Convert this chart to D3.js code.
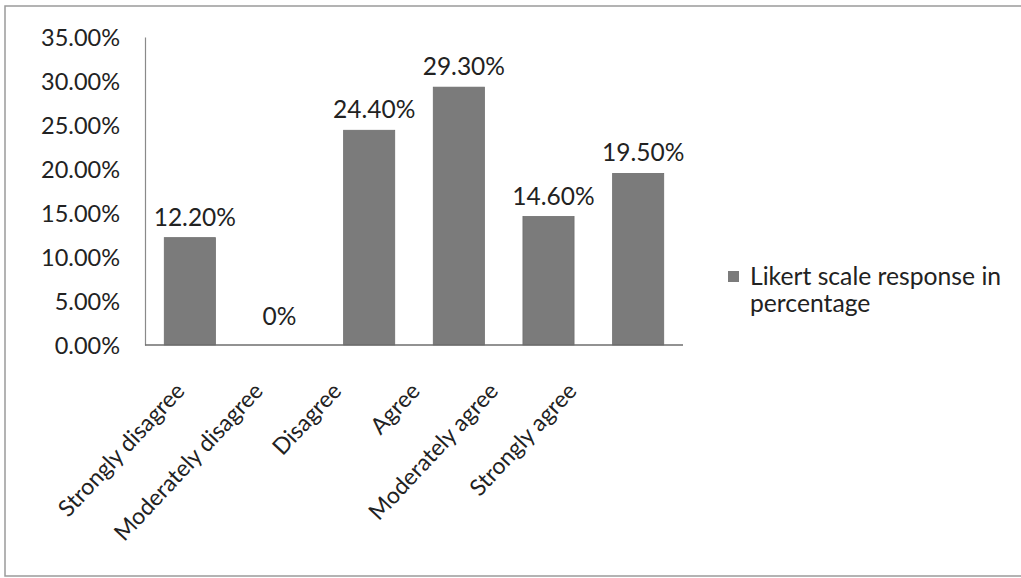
<html>
<head>
<script src="https://d3js.org/d3.v7.min.js"></script>
<style>
  body { margin: 0; background: #fff; }
  text { font-family: Lato, "Open Sans", sans-serif; fill: #222; }
</style>
</head>
<body>
<svg id="chart" width="1021" height="578"></svg>
<script>
    const categories = ["Strongly disagree", "Moderately disagree", "Disagree", "Agree", "Moderately agree", "Strongly agree"];
    const values = [12.2, 0, 24.4, 29.3, 14.6, 19.5];
    const valueLabels = ["12.20%", "0%", "24.40%", "29.30%", "14.60%", "19.50%"];
    const yTicks = [0, 5, 10, 15, 20, 25, 30, 35];
    const seriesName = ["Likert scale response in", "percentage"];

    const svg = d3.select("#chart");

    // frame round the whole chart
    svg.append("rect")
        .attr("x", 5).attr("y", 6)
        .attr("width", 1030).attr("height", 570)
        .attr("fill", "none")
        .attr("stroke", "#9a9a9a")
        .attr("stroke-width", 1.5);

    const x = d3.scaleBand()
        .domain(categories)
        .range([145, 683])
        .paddingInner(0.43)
        .paddingOuter(0.215);

    // rotated labels sit a bit left of the bars in the picture
    const xLabel = d3.scalePoint()
        .domain(categories)
        .range([186, 578]);

    const y = d3.scaleLinear()
        .domain([0, 35])
        .range([345, 37]);

    // y axis, labels only
    const yAxis = svg.append("g")
        .attr("transform", "translate(145,0)")
        .call(d3.axisLeft(y).tickValues(yTicks).tickSize(0).tickPadding(25)
            .tickFormat(d => d.toFixed(2) + "%"));
    yAxis.select(".domain").attr("stroke", "#8a8a8a").attr("stroke-width", 1.2);
    yAxis.selectAll("text")
        .style("font-family", "Lato, sans-serif")
        .style("font-size", "23.5px")
        .attr("fill", "#222")
        .attr("dy", "0.36em");

    svg.append("g")
        .selectAll("rect")
        .data(values)
        .join("rect")
        .attr("x", (d, i) => x(categories[i]))
        .attr("y", d => y(d))
        .attr("width", x.bandwidth())
        .attr("height", d => y(0) - y(d))
        .attr("fill", "#7b7b7b")
        .attr("stroke", "#6e6e6e")
        .attr("stroke-width", 0.8);

    // baseline
    svg.append("line")
        .attr("x1", 145).attr("x2", 683)
        .attr("y1", y(0)).attr("y2", y(0))
        .attr("stroke", "#6e6e6e")
        .attr("stroke-width", 1.5);

    svg.append("g")
        .selectAll("text")
        .data(values)
        .join("text")
        .attr("x", (d, i) => x(categories[i]) + x.bandwidth() / 2 + (d === 0 ? 0 : 5))
        .attr("y", d => y(d) - (d === 0 ? 20 : 12))
        .attr("text-anchor", "middle")
        .style("font-size", "24.5px")
        .text((d, i) => valueLabels[i]);

    svg.append("g")
        .selectAll("text")
        .data(categories)
        .join("text")
        .attr("transform", d => `translate(${xLabel(d)},${392}) rotate(-47)`)
        .attr("text-anchor", "end")
        .style("font-size", "23px")
        .text(d => d);

    // legend
    const legend = svg.append("g").attr("transform", "translate(728,271)");
    legend.append("rect")
        .attr("width", 11).attr("height", 11)
        .attr("fill", "#7b7b7b");
    legend.selectAll("text")
        .data(seriesName)
        .join("text")
        .attr("x", 22)
        .attr("y", (d, i) => 14 + i * 27)
        .style("font-size", "24.7px")
        .text(d => d);
</script>
</body>
</html>
